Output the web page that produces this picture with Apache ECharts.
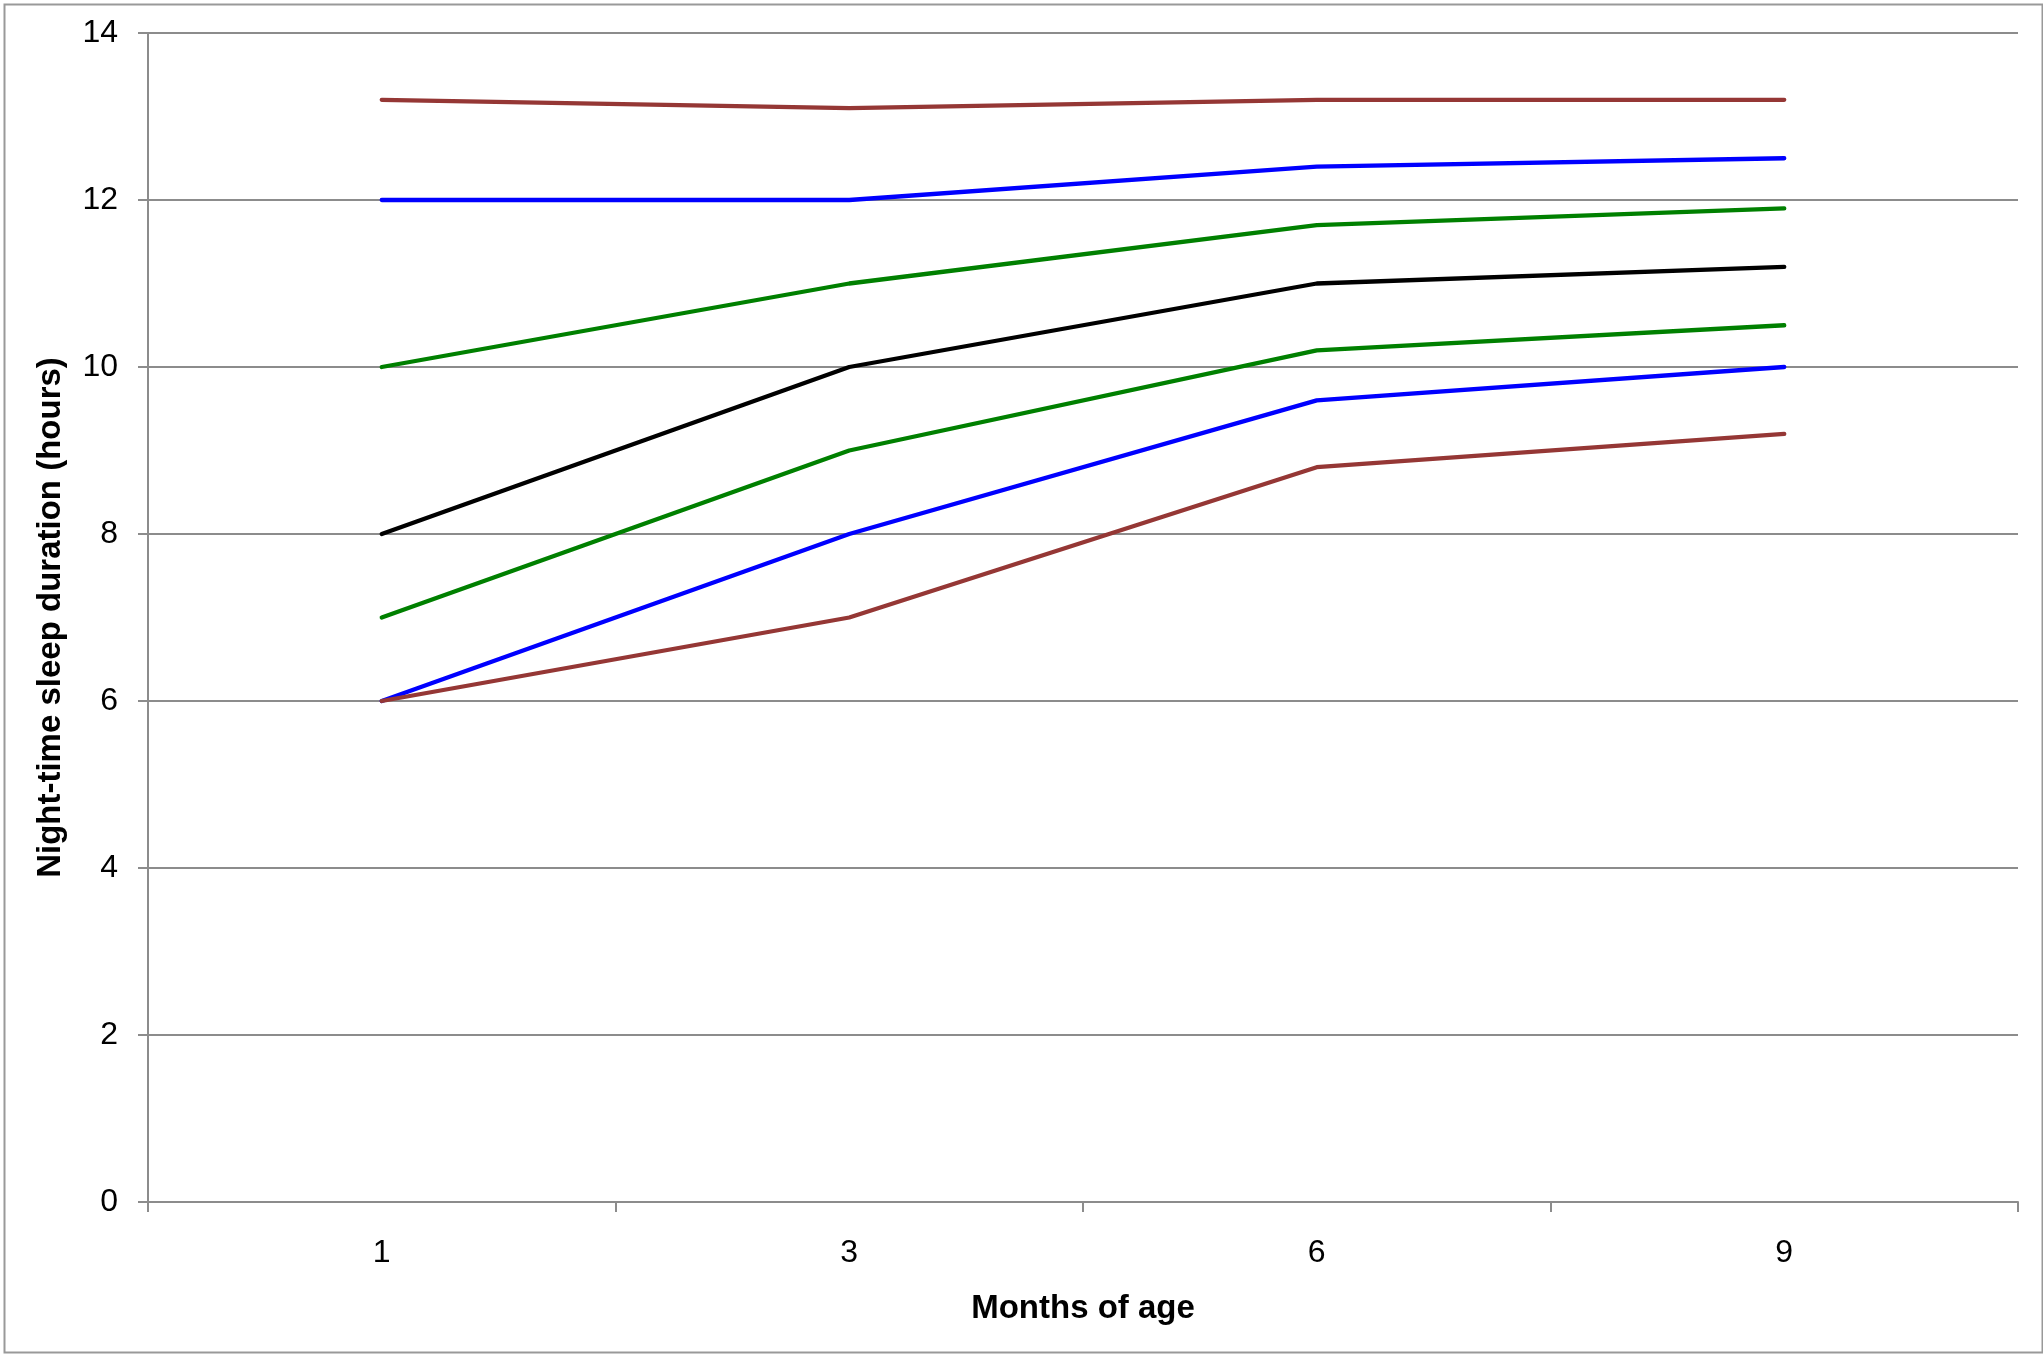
<!DOCTYPE html>
<html>
<head>
<meta charset="utf-8">
<script src="https://cdn.jsdelivr.net/npm/echarts@6/dist/echarts.min.js"></script>
<style>
html,body{margin:0;padding:0;background:#fff;}
#c{width:2043px;height:1354px;}
</style>
</head>
<body>
<div id="c"></div>
<script>
var categories = ['1', '3', '6', '9'];
var brownTop = [13.2, 13.1, 13.2, 13.2];
var blueTop = [12, 12, 12.4, 12.5];
var greenTop = [10, 11, 11.7, 11.9];
var blackMid = [8, 10, 11, 11.2];
var greenBottom = [7, 9, 10.2, 10.5];
var blueBottom = [6, 8, 9.6, 10];
var brownBottom = [6, 7, 8.8, 9.2];

var BROWN = '#953735', BLUE = '#0000ff', GREEN = '#008000', BLACK = '#000000';

function line(name, data, color) {
  return {
    name: name, type: 'line', data: data, symbol: 'none',
    lineStyle: { color: color, width: 4.3, cap: 'round', join: 'round' },
    itemStyle: { color: color }, animation: false
  };
}

var chart = echarts.init(document.getElementById('c'));
chart.setOption({
  backgroundColor: '#ffffff',
  animation: false,
  graphic: [{
    type: 'rect', left: 2, top: 2, z: -1,
    shape: { width: 2038, height: 1348 },
    style: { fill: 'none', stroke: '#999999', lineWidth: 2 }
  }],
  grid: { left: 148, right: 25, top: 33, bottom: 152, containLabel: false },
  xAxis: {
    type: 'category', data: categories, boundaryGap: true,
    name: 'Months of age', nameLocation: 'middle', nameGap: 90,
    nameTextStyle: { fontFamily: 'Liberation Sans, Arial', fontSize: 33, fontWeight: 'bold', color: '#000' },
    axisLine: { lineStyle: { color: '#8c8c8c', width: 2 } },
    axisTick: { show: true, length: 10, lineStyle: { color: '#8c8c8c', width: 2 }, alignWithLabel: false },
    axisLabel: { fontFamily: 'Liberation Sans, Arial', fontSize: 32, color: '#000', margin: 35 },
    splitLine: { show: false }
  },
  yAxis: {
    type: 'value', min: 0, max: 14, interval: 2,
    name: 'Night-time sleep duration (hours)', nameLocation: 'middle', nameGap: 81, nameRotate: 90,
    nameTextStyle: { fontFamily: 'Liberation Sans, Arial', fontSize: 33, fontWeight: 'bold', color: '#000' },
    axisLine: { show: true, lineStyle: { color: '#8c8c8c', width: 2 } },
    axisTick: { show: true, length: 10, lineStyle: { color: '#8c8c8c', width: 2 } },
    axisLabel: { fontFamily: 'Liberation Sans, Arial', fontSize: 32, color: '#000', margin: 30 },
    splitLine: { show: true, lineStyle: { color: '#8c8c8c', width: 2 } }
  },
  series: [
    line('Brown top', brownTop, BROWN),
    line('Blue top', blueTop, BLUE),
    line('Green top', greenTop, GREEN),
    line('Median', blackMid, BLACK),
    line('Green bottom', greenBottom, GREEN),
    line('Blue bottom', blueBottom, BLUE),
    line('Brown bottom', brownBottom, BROWN)
  ]
});
</script>
</body>
</html>
